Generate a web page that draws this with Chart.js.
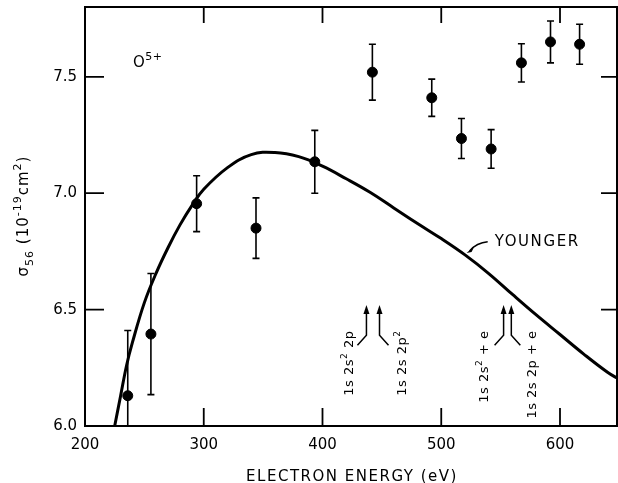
<!DOCTYPE html>
<html>
<head>
<meta charset="utf-8">
<script src="https://cdn.jsdelivr.net/npm/chart.js@4.4.1/dist/chart.umd.min.js"></script>
<style>
  html,body{margin:0;padding:0;background:#fff;overflow:hidden;}
  canvas{display:block;}
</style>
</head>
<body>
<canvas id="myChart" width="618" height="483"></canvas>
<script>
// points mesures (eV , 10^-19 cm2)
const energies = [236, 255.5, 294, 344, 393.5, 442, 492, 517, 542, 567.5, 592, 616.5];
const sigmas   = [6.13, 6.395, 6.955, 6.85, 7.135, 7.52, 7.41, 7.235, 7.19, 7.56, 7.65, 7.64];
const errors   = [0.28, 0.26, 0.12, 0.13, 0.135, 0.12, 0.08, 0.086, 0.083, 0.082, 0.09, 0.086];

// courbe theorique Younger
const youngerE = [225, 230, 235, 240, 250, 260, 270, 280, 290, 300, 320, 340, 360, 380, 400, 420, 440, 460, 480, 500, 520, 540, 560, 580, 600, 620, 640, 650];
const youngerS = [6.0, 6.13, 6.26, 6.36, 6.53, 6.658, 6.767, 6.864, 6.947, 7.017, 7.11, 7.166, 7.175, 7.157, 7.116, 7.062, 7.004, 6.937, 6.87, 6.805, 6.735, 6.655, 6.565, 6.477, 6.393, 6.309, 6.231, 6.2];

const xTicks = [200, 300, 400, 500, 600];
const yTicks = [6.0, 6.5, 7.0, 7.5];

// seuils (fleches) et leurs etiquettes
const seuilsE = [437, 448, 552.5, 559];
const seuilsSens = [-1, 1, -1, 1];
const etiquettesE = [425.5, 470, 539, 580];
const etiquettes = [
  [["1s 2s"], ["2", "sup"], [" 2p"]],
  [["1s 2s 2p"], ["2", "sup"]],
  [["1s 2s"], ["2", "sup"], [" + e"]],
  [["1s 2s 2p + e"]]
];

const FONT = "'DejaVu Sans', sans-serif";

// texte avec exposants / indices
function texteRiche(ctx, morceaux, x, y, align, taille, espace) {
  ctx.letterSpacing = espace + "px";
  let total = 0;
  morceaux.forEach(m => {
    ctx.font = (m[1] ? Math.round(taille * 0.7) : taille) + "px " + FONT;
    total += ctx.measureText(m[0]).width;
  });
  let cx = x;
  if (align == "right") cx = x - total;
  if (align == "center") cx = x - total / 2;
  ctx.textAlign = "left";
  ctx.textBaseline = "alphabetic";
  morceaux.forEach(m => {
    ctx.font = (m[1] ? Math.round(taille * 0.7) : taille) + "px " + FONT;
    let dy = 0;
    if (m[1] == "sup") dy = -taille * 0.45;
    if (m[1] == "sub") dy = taille * 0.3;
    ctx.fillText(m[0], cx, y + dy);
    cx += ctx.measureText(m[0]).width;
  });
  ctx.letterSpacing = "0px";
}

// on enleve le padding auto de chart.js pour garder la zone exacte
function sansPadding(s) {
  s.paddingTop = 0; s.paddingBottom = 0; s.paddingLeft = 0; s.paddingRight = 0;
}

const cadre = {
  id: "cadre",
  beforeDatasetsDraw(chart) {
    const {ctx, chartArea: a, scales: {x, y}} = chart;
    ctx.save();
    ctx.beginPath();
    ctx.rect(a.left, a.top, a.right - a.left, a.bottom - a.top);
    ctx.clip();
    ctx.strokeStyle = "#000";
    ctx.lineWidth = 1.6;
    energies.forEach((e, i) => {
      const px = x.getPixelForValue(e);
      const hi = y.getPixelForValue(sigmas[i] + errors[i]);
      const lo = y.getPixelForValue(sigmas[i] - errors[i]);
      ctx.beginPath();
      ctx.moveTo(px, hi); ctx.lineTo(px, lo);
      ctx.moveTo(px - 3.5, hi); ctx.lineTo(px + 3.5, hi);
      ctx.moveTo(px - 3.5, lo); ctx.lineTo(px + 3.5, lo);
      ctx.stroke();
    });
    ctx.restore();
  },
  afterDraw(chart) {
    const {ctx, chartArea: a, scales: {x, y}} = chart;
    ctx.save();
    ctx.strokeStyle = "#000";
    ctx.fillStyle = "#000";
    // le cadre
    ctx.lineWidth = 2;
    ctx.strokeRect(a.left, a.top, a.right - a.left, a.bottom - a.top);
    // graduations vers l'interieur
    ctx.lineWidth = 1.8;
    ctx.beginPath();
    xTicks.forEach(v => {
      if (v == 200) return;
      const px = x.getPixelForValue(v);
      ctx.moveTo(px, a.bottom); ctx.lineTo(px, a.bottom - 18);
      ctx.moveTo(px, a.top); ctx.lineTo(px, a.top + 16);
    });
    yTicks.forEach(v => {
      if (v == 6.0) return;
      const py = y.getPixelForValue(v);
      ctx.moveTo(a.left, py); ctx.lineTo(a.left + 19, py);
      ctx.moveTo(a.right, py); ctx.lineTo(a.right - 16, py);
    });
    ctx.stroke();

    // titre axe x
    ctx.font = "15px " + FONT;
    ctx.letterSpacing = "1.5px";
    ctx.textAlign = "center";
    ctx.textBaseline = "alphabetic";
    ctx.fillText("ELECTRON ENERGY (eV)", (a.left + a.right) / 2 + 1, 481);
    ctx.letterSpacing = "0px";

    // titre axe y (tourne)
    ctx.save();
    ctx.translate(28, 216);
    ctx.rotate(-Math.PI / 2);
    texteRiche(ctx, [["σ"], ["56", "sub"], [" (10"], ["-19", "sup"], ["cm"], ["2", "sup"], [")"]], 0, 0, "center", 15, 1);
    ctx.restore();

    // O5+
    texteRiche(ctx, [["O"], ["5+", "sup"]], 133, 67, "left", 15, 0.5);

    // YOUNGER + sa fleche
    const tx = x.getPixelForValue(545), ty = y.getPixelForValue(6.774);
    ctx.font = "15px " + FONT;
    ctx.letterSpacing = "1.6px";
    ctx.textAlign = "left";
    ctx.fillText("YOUNGER", tx, ty);
    ctx.letterSpacing = "0px";
    const fx = x.getPixelForValue(521.3), fy = y.getPixelForValue(6.735) - 2;
    ctx.lineWidth = 1.5;
    ctx.beginPath();
    ctx.moveTo(tx - 7, ty - 4);
    ctx.quadraticCurveTo(tx - 18, ty - 3, fx + 3, fy - 2);
    ctx.stroke();
    ctx.beginPath();
    ctx.moveTo(fx, fy);
    ctx.lineTo(fx + 8, fy - 7);
    ctx.lineTo(fx + 5, fy - 1);
    ctx.closePath();
    ctx.fill();

    // fleches des seuils
    const pointe = y.getPixelForValue(6.52), genou = y.getPixelForValue(6.39);
    ctx.lineWidth = 1.5;
    seuilsE.forEach((e, i) => {
      const px = x.getPixelForValue(e);
      ctx.beginPath();
      ctx.moveTo(px, pointe + 6);
      ctx.lineTo(px, genou);
      ctx.lineTo(px + seuilsSens[i] * 9, genou + 10);
      ctx.stroke();
      ctx.beginPath();
      ctx.moveTo(px, pointe);
      ctx.lineTo(px - 3, pointe + 9);
      ctx.lineTo(px + 3, pointe + 9);
      ctx.closePath();
      ctx.fill();
    });

    // etiquettes verticales
    const haut = y.getPixelForValue(6.41);
    etiquettes.forEach((lab, i) => {
      ctx.save();
      ctx.translate(x.getPixelForValue(etiquettesE[i]), haut);
      ctx.rotate(-Math.PI / 2);
      texteRiche(ctx, lab, 0, 0, "right", 13, 0.5);
      ctx.restore();
    });
    ctx.restore();
  }
};

const ctx = document.getElementById("myChart");
const graphe = new Chart(ctx, {
  type: "scatter",
  data: {
    datasets: [
      {
        label: "Younger",
        type: "line",
        data: youngerE.map((e, i) => ({x: e, y: youngerS[i]})),
        borderColor: "#000",
        borderWidth: 3,
        pointRadius: 0,
        tension: 0.4,
        fill: false
      },
      {
        label: "mesures",
        data: energies.map((e, i) => ({x: e, y: sigmas[i]})),
        backgroundColor: "#000",
        borderColor: "#000",
        pointRadius: 5,
        pointHoverRadius: 5
      }
    ]
  },
  options: {
    responsive: false,
    maintainAspectRatio: false,
    animation: false,
    layout: {padding: {top: 7, right: 1, left: 0, bottom: 0}},
    plugins: {legend: {display: false}, tooltip: {enabled: false}},
    scales: {
      x: {
        type: "linear",
        min: 200,
        max: 648,
        afterFit(s) { s.height = 57; sansPadding(s); },
        afterBuildTicks(s) { s.ticks = xTicks.map(v => ({value: v})); },
        grid: {display: false, drawTicks: false},
        border: {display: false},
        ticks: {padding: 10, color: "#000", font: {family: FONT, size: 15}, callback: v => v, maxRotation: 0}
      },
      y: {
        type: "linear",
        min: 6,
        max: 7.8,
        afterFit(s) { s.width = 85; sansPadding(s); },
        afterBuildTicks(s) { s.ticks = yTicks.map(v => ({value: v})); },
        grid: {display: false, drawTicks: false},
        border: {display: false},
        ticks: {padding: 8, color: "#000", font: {family: FONT, size: 15}, callback: v => v.toFixed(1)}
      }
    }
  },
  plugins: [cadre]
});

// chart.js garde une marge pour la taille des points, on la supprime
graphe.data.datasets.forEach((d, i) => {
  graphe.getDatasetMeta(i).controller.getMaxOverflow = () => 0;
});
graphe.update();
</script>
</body>
</html>
